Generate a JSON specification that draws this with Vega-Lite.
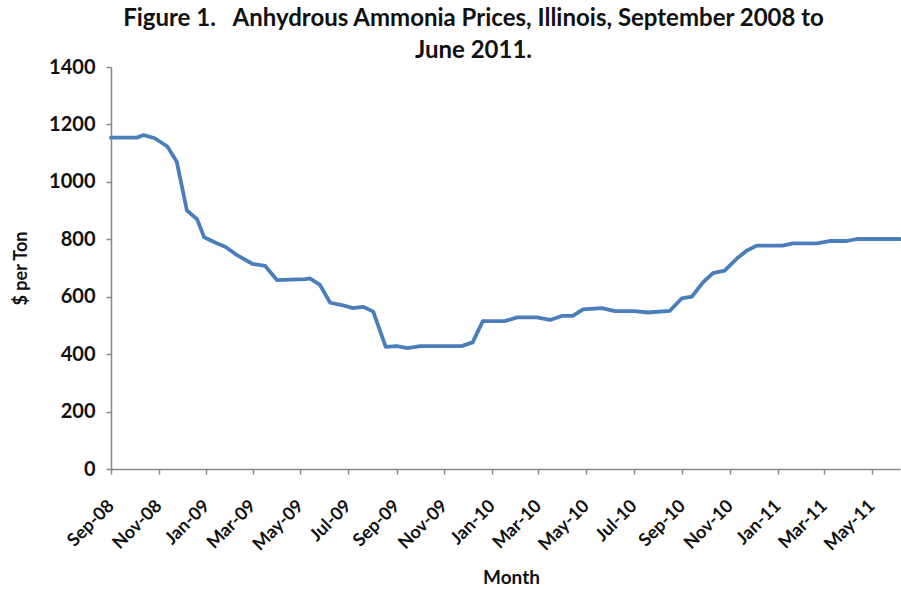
{
  "$schema": "https://vega.github.io/schema/vega-lite/v6.json",
  "autosize": "none",
  "width": 789,
  "height": 402,
  "padding": {"left": 111, "top": 67, "right": 1, "bottom": 121},
  "background": "white",
  "config": {
    "view": {"stroke": null},
    "font": "Lato"
  },
  "title": {
    "text": ["Figure 1.\u00a0\u00a0\u00a0Anhydrous Ammonia Prices, Illinois, September 2008 to", "June 2011."],
    "font": "Lato",
    "fontSize": 24,
    "fontWeight": "bold",
    "color": "#111111",
    "anchor": "middle",
    "frame": "group",
    "dx": -32,
    "dy": 10,
    "offset": 4,
    "lineHeight": 32
  },
  "data": {
    "values": [
      {"date": "2008-09-01T00:00:00", "price": 1154},
      {"date": "2008-10-04T00:00:00", "price": 1154},
      {"date": "2008-10-13T00:00:00", "price": 1163},
      {"date": "2008-10-27T00:00:00", "price": 1152},
      {"date": "2008-11-12T00:00:00", "price": 1123},
      {"date": "2008-11-24T00:00:00", "price": 1070},
      {"date": "2008-12-07T00:00:00", "price": 900},
      {"date": "2008-12-20T00:00:00", "price": 870},
      {"date": "2008-12-29T00:00:00", "price": 807},
      {"date": "2009-01-14T00:00:00", "price": 786},
      {"date": "2009-01-25T00:00:00", "price": 774},
      {"date": "2009-02-09T00:00:00", "price": 745},
      {"date": "2009-03-01T00:00:00", "price": 714},
      {"date": "2009-03-17T00:00:00", "price": 707},
      {"date": "2009-04-01T00:00:00", "price": 658},
      {"date": "2009-05-07T00:00:00", "price": 661},
      {"date": "2009-05-13T00:00:00", "price": 664},
      {"date": "2009-05-26T00:00:00", "price": 641},
      {"date": "2009-06-08T00:00:00", "price": 579},
      {"date": "2009-06-23T00:00:00", "price": 571},
      {"date": "2009-07-07T00:00:00", "price": 560},
      {"date": "2009-07-20T00:00:00", "price": 565},
      {"date": "2009-08-02T00:00:00", "price": 548},
      {"date": "2009-08-18T00:00:00", "price": 425},
      {"date": "2009-09-01T00:00:00", "price": 428},
      {"date": "2009-09-15T00:00:00", "price": 421},
      {"date": "2009-10-01T00:00:00", "price": 428},
      {"date": "2009-11-23T00:00:00", "price": 428},
      {"date": "2009-12-07T00:00:00", "price": 441},
      {"date": "2009-12-20T00:00:00", "price": 515},
      {"date": "2010-01-17T00:00:00", "price": 515},
      {"date": "2010-02-02T00:00:00", "price": 528},
      {"date": "2010-02-27T00:00:00", "price": 528},
      {"date": "2010-03-16T00:00:00", "price": 519},
      {"date": "2010-03-31T00:00:00", "price": 533},
      {"date": "2010-04-14T00:00:00", "price": 533},
      {"date": "2010-04-27T00:00:00", "price": 556},
      {"date": "2010-05-21T00:00:00", "price": 560},
      {"date": "2010-06-07T00:00:00", "price": 550},
      {"date": "2010-07-02T00:00:00", "price": 550},
      {"date": "2010-07-19T00:00:00", "price": 545},
      {"date": "2010-08-16T00:00:00", "price": 551},
      {"date": "2010-08-31T00:00:00", "price": 594},
      {"date": "2010-09-13T00:00:00", "price": 600},
      {"date": "2010-09-27T00:00:00", "price": 649},
      {"date": "2010-10-10T00:00:00", "price": 682},
      {"date": "2010-10-25T00:00:00", "price": 691},
      {"date": "2010-11-10T00:00:00", "price": 734},
      {"date": "2010-11-22T00:00:00", "price": 760},
      {"date": "2010-12-05T00:00:00", "price": 778},
      {"date": "2011-01-07T00:00:00", "price": 778},
      {"date": "2011-01-20T00:00:00", "price": 786},
      {"date": "2011-02-20T00:00:00", "price": 786},
      {"date": "2011-03-08T00:00:00", "price": 794},
      {"date": "2011-03-30T00:00:00", "price": 794},
      {"date": "2011-04-12T00:00:00", "price": 801},
      {"date": "2011-06-06T00:00:00", "price": 801}
    ]
  },
  "mark": {"type": "line", "color": "#4a7ebb", "strokeWidth": 3.8, "strokeJoin": "round", "strokeCap": "round"},
  "encoding": {
    "x": {
      "field": "date",
      "type": "temporal",
      "scale": {
        "domain": [{"year": 2008, "month": 9, "date": 1}, {"year": 2011, "month": 6, "date": 6}],
        "nice": false
      },
      "axis": {
        "title": "Month",
        "titleFont": "Lato",
        "titleFontSize": 19,
        "titleFontWeight": "bold",
        "titleColor": "#111111",
        "titlePadding": 15,
        "titleX": 400,
        "format": "%b-%y",
        "values": [
          {"year": 2008, "month": 9, "date": 1},
          {"year": 2008, "month": 11, "date": 1},
          {"year": 2009, "month": 1, "date": 1},
          {"year": 2009, "month": 3, "date": 1},
          {"year": 2009, "month": 5, "date": 1},
          {"year": 2009, "month": 7, "date": 1},
          {"year": 2009, "month": 9, "date": 1},
          {"year": 2009, "month": 11, "date": 1},
          {"year": 2010, "month": 1, "date": 1},
          {"year": 2010, "month": 3, "date": 1},
          {"year": 2010, "month": 5, "date": 1},
          {"year": 2010, "month": 7, "date": 1},
          {"year": 2010, "month": 9, "date": 1},
          {"year": 2010, "month": 11, "date": 1},
          {"year": 2011, "month": 1, "date": 1},
          {"year": 2011, "month": 3, "date": 1},
          {"year": 2011, "month": 5, "date": 1}
        ],
        "labelAngle": -45,
        "labelAlign": "right",
        "labelBaseline": "middle",
        "labelFont": "Lato",
        "labelFontSize": 18,
        "labelFontWeight": "bold",
        "labelColor": "#111111",
        "labelPadding": 29,
        "labelOverlap": false,
        "labelFlush": false,
        "domainColor": "#888888",
        "domainWidth": 1.5,
        "tickColor": "#888888",
        "tickSize": 5,
        "tickWidth": 1.5,
        "grid": false
      }
    },
    "y": {
      "field": "price",
      "type": "quantitative",
      "scale": {"domain": [0, 1400], "nice": false, "zero": true},
      "axis": {
        "title": "$ per Ton",
        "titleFont": "Lato",
        "titleFontSize": 18,
        "titleFontWeight": "bold",
        "titleColor": "#111111",
        "titlePadding": 18,
        "format": "d",
        "values": [0, 200, 400, 600, 800, 1000, 1200, 1400],
        "labelFont": "Lato",
        "labelFontSize": 20,
        "labelFontWeight": "bold",
        "labelColor": "#111111",
        "labelPadding": 11,
        "domainColor": "#888888",
        "domainWidth": 1.5,
        "tickColor": "#888888",
        "tickSize": 5,
        "tickWidth": 1.5,
        "grid": false
      }
    }
  }
}
